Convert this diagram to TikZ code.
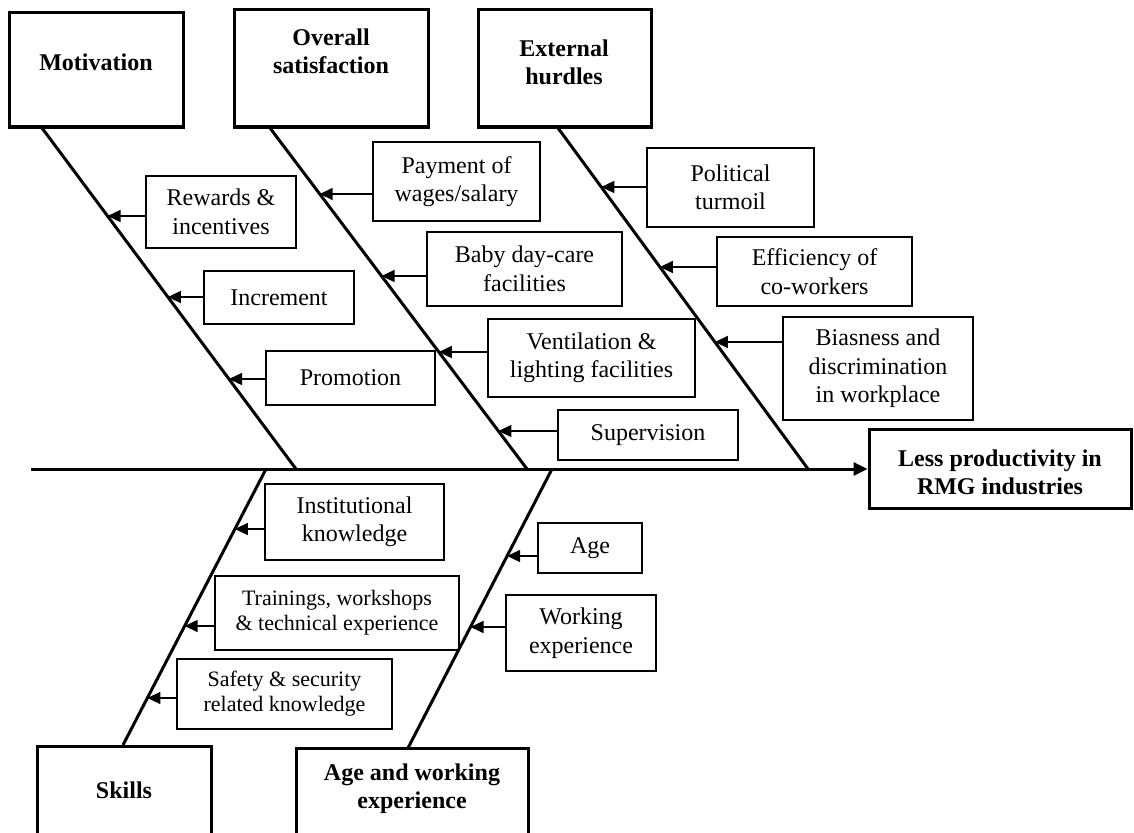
\documentclass[tikz,border=0pt]{standalone}
\usepackage{fontspec}
\setmainfont{Liberation Serif}
\usetikzlibrary{arrows.meta}
\tikzset{
  x=1pt, y=-1pt,
  headbox/.style={draw, line width=3pt, inner sep=0pt},
  headtext/.style={font=\fontsize{24}{28}\selectfont\bfseries, align=center, inner sep=0pt},
  subbox/.style={draw, line width=1.5pt, align=center, inner sep=0pt, font=\fontsize{24}{28.5}\selectfont},
  smallbox/.style={subbox, font=\fontsize{22}{25}\selectfont},
  bone/.style={line width=3pt},
  sarrow/.style={line width=1.5pt, -{Triangle[length=13pt,width=12pt]}},
  marrow/.style={line width=3pt, -{Triangle[length=14pt,width=13pt]}}
}
\newcommand{\bx}[7]{% style, name, x1, y1, x2, y2, text
  \node[#1, minimum width={#5-#3}, minimum height={#6-#4}] (#2) at ({(#3+#5)/2},{(#4+#6)/2}) {#7};}
\begin{document}
\begin{tikzpicture}
\useasboundingbox (0,0) rectangle (1134,832);

% head boxes
\bx{headbox}{mot}{9}{13}{183}{127}{}
\node[headtext] (motT) at (96,62) {Motivation};
\bx{headbox}{ovs}{234}{10}{428}{127}{}
\node[headtext] (ovsT) at (331,51) {Overall\\satisfaction};
\bx{headbox}{ext}{478}{10}{651}{127}{}
\node[headtext] (extT) at (564,62) {External\\hurdles};
\bx{headbox}{eff}{869}{429}{1131}{508}{}
\node[headtext] (effT) at (1000,472) {Less productivity in\\RMG industries};
\bx{headbox}{skl}{37}{746}{211}{840}{}
\node[headtext] (sklT) at (124,790) {Skills};
\bx{headbox}{age}{296}{748}{528}{840}{}
\node[headtext] (ageT) at (412,789) {Age and working\\experience};

% spine
\coordinate (sp0) at (31,469);
\draw[marrow] (sp0) -- (eff.west |- sp0);

% bones
\coordinate (mA) at (42,128);  \coordinate (mB) at (296,469);
\coordinate (oA) at (270,128); \coordinate (oB) at (527,469);
\coordinate (eA) at (558,128); \coordinate (eB) at (808,469);
\coordinate (sA) at (123,745); \coordinate (sB) at (266,469);
\coordinate (aA) at (408,748); \coordinate (aB) at (552,469);
\draw[bone] (mA) -- (mB);
\draw[bone] (oA) -- (oB);
\draw[bone] (eA) -- (eB);
\draw[bone] (sA) -- (sB);
\draw[bone] (aA) -- (aB);

% sub-cause boxes
\bx{subbox}{rew}{146}{176}{296}{248}{Rewards \&\\incentives}
\bx{subbox}{inc}{204}{271}{354}{324}{Increment}
\bx{subbox}{pro}{266}{351}{435}{405}{Promotion}

\bx{subbox}{pay}{373}{142}{540}{221}{Payment of\\wages/salary}
\bx{subbox}{bab}{427}{232}{622}{306}{Baby day-care\\facilities}
\bx{subbox}{ven}{488}{319}{695}{397}{Ventilation \&\\lighting facilities}
\bx{subbox}{sup}{558}{410}{738}{460}{Supervision}

\bx{subbox}{pol}{647}{148}{814}{227}{Political\\turmoil}
\bx{subbox}{ecw}{717}{237}{912}{306}{Efficiency of\\co-workers}
\bx{subbox}{bia}{783}{317}{973}{420}{Biasness and\\discrimination\\in workplace}

\bx{subbox}{ins}{265}{484}{444}{560}{Institutional\\knowledge}
\bx{smallbox}{trn}{215}{576}{459}{650}{Trainings, workshops\\\& technical experience}
\bx{smallbox}{saf}{177}{659}{392}{729}{Safety \& security\\related knowledge}

\bx{subbox}{ag}{538}{523}{642}{573}{Age}
\bx{subbox}{wex}{506}{595}{656}{671}{Working\\experience}

% arrow targets on bones
\coordinate (tRew) at (107.5,216);
\coordinate (tInc) at (167.9,297);
\coordinate (tPro) at (229,379);
\coordinate (tPay) at (319.7,194);
\coordinate (tBab) at (381.6,276);
\coordinate (tVen) at (438.8,352);
\coordinate (tSup) at (498.4,431);
\coordinate (tPol) at (601.3,187);
\coordinate (tEcw) at (659.9,267);
\coordinate (tBia) at (714.9,342);
\coordinate (tIns) at (234.9,529);
\coordinate (tTrn) at (184.7,626);
\coordinate (tSaf) at (147.4,698);
\coordinate (tAg) at (507.1,556);
\coordinate (tWex) at (470.5,627);

\draw[sarrow] (rew.west |- tRew) -- (tRew);
\draw[sarrow] (inc.west |- tInc) -- (tInc);
\draw[sarrow] (pro.west |- tPro) -- (tPro);
\draw[sarrow] (pay.west |- tPay) -- (tPay);
\draw[sarrow] (bab.west |- tBab) -- (tBab);
\draw[sarrow] (ven.west |- tVen) -- (tVen);
\draw[sarrow] (sup.west |- tSup) -- (tSup);
\draw[sarrow] (pol.west |- tPol) -- (tPol);
\draw[sarrow] (ecw.west |- tEcw) -- (tEcw);
\draw[sarrow] (bia.west |- tBia) -- (tBia);
\draw[sarrow] (ins.west |- tIns) -- (tIns);
\draw[sarrow] (trn.west |- tTrn) -- (tTrn);
\draw[sarrow] (saf.west |- tSaf) -- (tSaf);
\draw[sarrow] (ag.west |- tAg) -- (tAg);
\draw[sarrow] (wex.west |- tWex) -- (tWex);
\end{tikzpicture}
\end{document}
